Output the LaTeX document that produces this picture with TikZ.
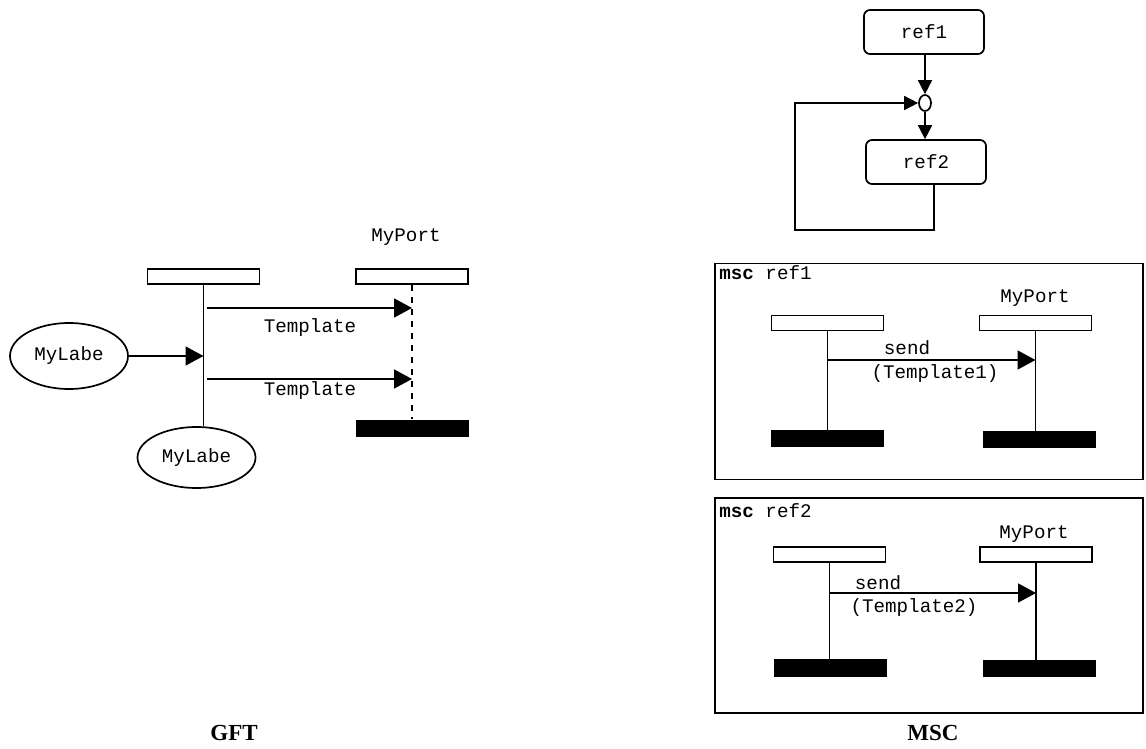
\documentclass[tikz,border=0pt]{standalone}
\usepackage{fontspec}
\setmainfont{Liberation Serif}
\setmonofont{Liberation Mono}
\definecolor{chartblack}{HTML}{000000}
\usetikzlibrary{arrows.meta,shapes.geometric}
\tikzset{
    lifehead/.style={
        draw=chartblack,
        fill=white,
        line width=0.85pt,
        inner sep=0pt,
        minimum width=56pt,
        minimum height=7.5pt
    },
    lifeend/.style={
        fill=chartblack,
        inner sep=0pt,
        minimum width=56.5pt,
        minimum height=8.5pt
    },
    lifeline/.style={
        draw=chartblack,
        line width=0.85pt
    },
    labelellipse/.style={
        ellipse,
        draw=chartblack,
        line width=0.85pt,
        inner sep=0pt,
        minimum width=59pt,
        minimum height=33pt,
        font=\ttfamily\fontsize{9.6}{11}\selectfont
    },
    reference/.style={
        draw=chartblack,
        rounded corners=3pt,
        line width=0.85pt,
        inner sep=0pt,
        minimum width=60pt,
        minimum height=22pt,
        font=\ttfamily\fontsize{9.6}{11}\selectfont
    },
    junction/.style={
        ellipse,
        draw=chartblack,
        line width=0.85pt,
        inner sep=0pt,
        minimum width=6pt,
        minimum height=8pt
    },
    mscframe/.style={
        draw=chartblack,
        line width=0.85pt,
        inner sep=0pt,
        minimum width=214pt,
        minimum height=108pt
    },
    monotext/.style={
        inner sep=0pt,
        font=\ttfamily\fontsize{9.6}{11}\selectfont
    },
    caption/.style={
        inner sep=0pt,
        font=\bfseries\fontsize{11.5}{13}\selectfont
    },
    messagearrow/.style={
        -{Triangle[length=9pt,width=9.5pt]},
        draw=chartblack,
        line width=0.85pt
    },
    referencearrow/.style={
        -{Triangle[length=7pt,width=7pt]},
        draw=chartblack,
        line width=0.85pt
    }
}
\begin{document}
\begin{tikzpicture}[x=0.5pt,y=-0.5pt]
        \useasboundingbox (0,0) rectangle (1146,749);

        \node[lifehead] (gfthead) at (203.5,276.5) {};
        \node[lifehead] (porthead) at (412,276.5) {};
        \node[lifeend] (portend) at (412.5,428) {};
        \node[monotext] (portname) at (406,237) {MyPort};
        \node[labelellipse] (labelleft) at (69,356) {MyLabe};
        \node[labelellipse,minimum height=30.5pt] (labelbottom) at (196.5,457.5) {MyLabe};
        \coordinate (gftsendone) at (0,308);
        \coordinate (gftsendtwo) at (0,379);
        \node[monotext] (templateone) at (310,328) {Template};
        \node[monotext] (templatetwo) at (310,391) {Template};

        \draw[lifeline] (gfthead.south) -- (gfthead.south |- labelbottom.north);
        \draw[lifeline,dashed] (porthead.south) -- (porthead.south |- portend.north);
        \draw[messagearrow] ([xshift=1.5pt]gfthead.south |- gftsendone)
            -- (porthead.south |- gftsendone);
        \draw[messagearrow] ([xshift=1.5pt]gfthead.south |- gftsendtwo)
            -- (porthead.south |- gftsendtwo);
        \draw[messagearrow] (labelleft.east) -- (labelleft.east -| gfthead.south);

        \node[reference] (refone) at (924,32) {ref1};
        \node[junction] (merge) at (925,103) {};
        \node[reference] (reftwo) at (926,162) {ref2};
        \coordinate (loopout) at (934,184);
        \coordinate (loopcorner) at (795,230);

        \draw[referencearrow] (merge.north |- refone.south) -- (merge.north);
        \draw[referencearrow] (merge.south) -- (merge.south |- reftwo.north);
        \draw[referencearrow] (loopout) |- (loopcorner) |- (merge.west);

        \node[mscframe] (frameone) at (929,371.5) {};
        \node[monotext,anchor=west] (titleone) at (719,273)
            {\textbf{msc} ref1};
        \node[lifehead] (userone) at (827.5,323) {};
        \node[lifeend] (userendone) at (827.5,438.5) {};
        \node[lifehead] (portone) at (1035.5,323) {};
        \node[lifeend] (portendone) at (1039,439.5) {};
        \node[monotext] (portnameone) at (1035,298) {MyPort};
        \node[monotext] (sendone) at (907,348) {send};
        \node[monotext] (argone) at (935,374) {(Template1)};
        \coordinate (msgone) at (0,360);

        \draw[lifeline] (userone.south) -- (userone.south |- userendone.north);
        \draw[lifeline] (portone.south) -- (portone.south |- portendone.north);
        \draw[messagearrow] (userone.south |- msgone) -- (portone.south |- msgone);

        \node[mscframe,minimum height=107.5pt] (frametwo) at (929,605.5) {};
        \node[monotext,anchor=west] (titletwo) at (719,511)
            {\textbf{msc} ref2};
        \node[lifehead] (usertwo) at (829.5,554.5) {};
        \node[lifeend,minimum height=9pt] (userendtwo) at (830,668) {};
        \node[lifehead] (porttwo) at (1036,554.5) {};
        \node[lifeend] (portendtwo) at (1039,668.5) {};
        \node[monotext] (portnametwo) at (1034,534) {MyPort};
        \node[monotext] (sendtwo) at (878,583) {send};
        \node[monotext] (argtwo) at (914,608) {(Template2)};
        \coordinate (msgtwo) at (0,593);

        \draw[lifeline] (usertwo.south) -- (usertwo.south |- userendtwo.north);
        \draw[lifeline] (porttwo.south) -- (porttwo.south |- portendtwo.north);
        \draw[messagearrow] (usertwo.south |- msgtwo) -- (porttwo.south |- msgtwo);

        \node[caption] (gftcaption) at (234,733) {GFT};
        \node[caption] (msccaption) at (933,733) {MSC};
    \end{tikzpicture}
\end{document}
